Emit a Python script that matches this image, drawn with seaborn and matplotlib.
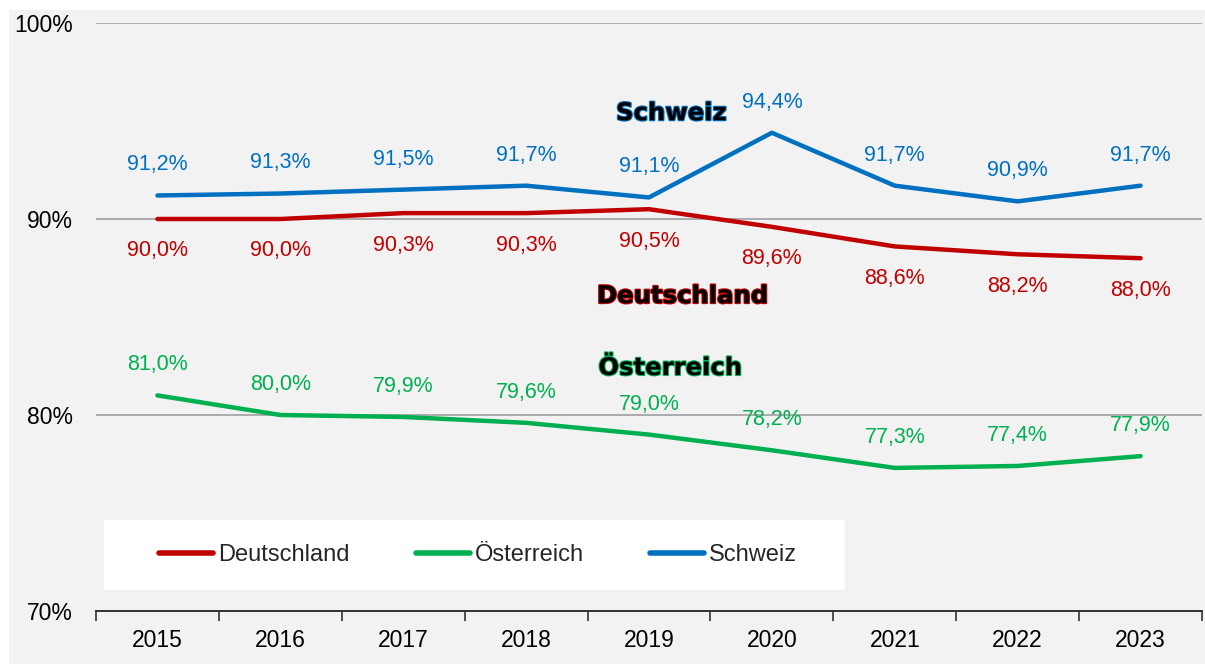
import pandas as pd
import seaborn as sns
import matplotlib.pyplot as plt
import matplotlib.patheffects as pe
from matplotlib.patches import Rectangle
from matplotlib.ticker import FixedLocator, FuncFormatter

years = ['2015', '2016', '2017', '2018', '2019', '2020', '2021', '2022', '2023']
deutschland = [90.0, 90.0, 90.3, 90.3, 90.5, 89.6, 88.6, 88.2, 88.0]
oesterreich = [81.0, 80.0, 79.9, 79.6, 79.0, 78.2, 77.3, 77.4, 77.9]
schweiz = [91.2, 91.3, 91.5, 91.7, 91.1, 94.4, 91.7, 90.9, 91.7]

series = ['Deutschland', 'Österreich', 'Schweiz']
colors = {'Deutschland': '#C00000', 'Österreich': '#00B050', 'Schweiz': '#0070C0'}

df = pd.DataFrame({
    'pos': list(range(len(years))) * 3,
    'wert': deutschland + oesterreich + schweiz,
    'land': [s for s in series for _ in years],
})

sns.set_style('white')
plt.rcParams['font.family'] = ['Liberation Sans', 'DejaVu Sans']

fig = plt.figure(figsize=(12.05, 6.64), dpi=100)
fig.patch.set_facecolor('white')
fig.add_artist(Rectangle((9 / 1205, 0), 1, 1 - 10 / 664, transform=fig.transFigure,
                         facecolor='#F2F2F2', edgecolor='none', zorder=-10))
ax = fig.add_axes([96 / 1205, 1 - 611 / 664, 1106 / 1205, 588 / 664])
ax.set_facecolor('none')

sns.lineplot(data=df, x='pos', y='wert', hue='land', palette=colors, hue_order=series,
             linewidth=3.2, ax=ax, legend=True, solid_capstyle='round')

ax.set_xlim(-0.5, len(years) - 0.5)
ax.set_ylim(70, 100)

# y axis
ax.set_yticks([70, 80, 90, 100])
ax.yaxis.set_major_formatter(FuncFormatter(lambda v, p: f'{v:.0f}%'))
ax.tick_params(axis='y', length=0, pad=16.5, labelsize=16.5, labelcolor='black')
for v in [80, 90, 100]:
    ax.axhline(v, color='#A0A0A0', linewidth=1.2, zorder=0)

# x axis
ax.set_xticks(range(len(years)))
ax.set_xticklabels(years)
ax.xaxis.set_minor_locator(FixedLocator([i - 0.5 for i in range(len(years) + 1)]))
ax.tick_params(axis='x', which='major', length=0, pad=13, labelsize=16.5, labelcolor='black')
ax.tick_params(axis='x', which='minor', length=7, width=1.3, color='#404040', direction='out')
ax.xaxis.set_ticks_position('bottom')

for s in ['top', 'right', 'left']:
    ax.spines[s].set_visible(False)
ax.spines['bottom'].set_color('#303030')
ax.spines['bottom'].set_linewidth(1.4)
ax.set_xlabel('')
ax.set_ylabel('')

# data labels
def fmt(v):
    return f'{v:.1f}%'.replace('.', ',')

for i, v in enumerate(schweiz):
    ax.annotate(fmt(v), (i, v), xytext=(0, 22), textcoords='offset points',
                ha='center', va='center', fontsize=15.5, color=colors['Schweiz'])
for i, v in enumerate(deutschland):
    ax.annotate(fmt(v), (i, v), xytext=(0, -23), textcoords='offset points',
                ha='center', va='center', fontsize=15.5, color=colors['Deutschland'])
for i, v in enumerate(oesterreich):
    ax.annotate(fmt(v), (i, v), xytext=(0, 22), textcoords='offset points',
                ha='center', va='center', fontsize=15.5, color=colors['Österreich'])

# series names
name_pos = {'Schweiz': (4.18, 95.4), 'Deutschland': (4.27, 86.07), 'Österreich': (4.17, 82.4)}
for name, (x, y) in name_pos.items():
    ax.text(x, y, name, ha='center', va='center', fontsize=17.5, fontweight='bold',
            family='DejaVu Sans', color='black',
            path_effects=[pe.withStroke(linewidth=1.6, foreground=colors[name])])

# legend
ax.add_patch(Rectangle((8 / 1106, 21 / 588), 741 / 1106, 70 / 588, transform=ax.transAxes,
                       facecolor='white', edgecolor='none', zorder=1))
handles, labels = ax.get_legend_handles_labels()
leg = ax.legend(handles, labels, loc='center', bbox_to_anchor=(382 / 1106, 56 / 588),
                ncol=3, frameon=False, fontsize=17, handlelength=2.3, handletextpad=0.2,
                columnspacing=2.8)
for line in leg.get_lines():
    line.set_linewidth(4)
    line.set_solid_capstyle('round')
leg.set_zorder(2)

fig.savefig('out.png', dpi=100)
